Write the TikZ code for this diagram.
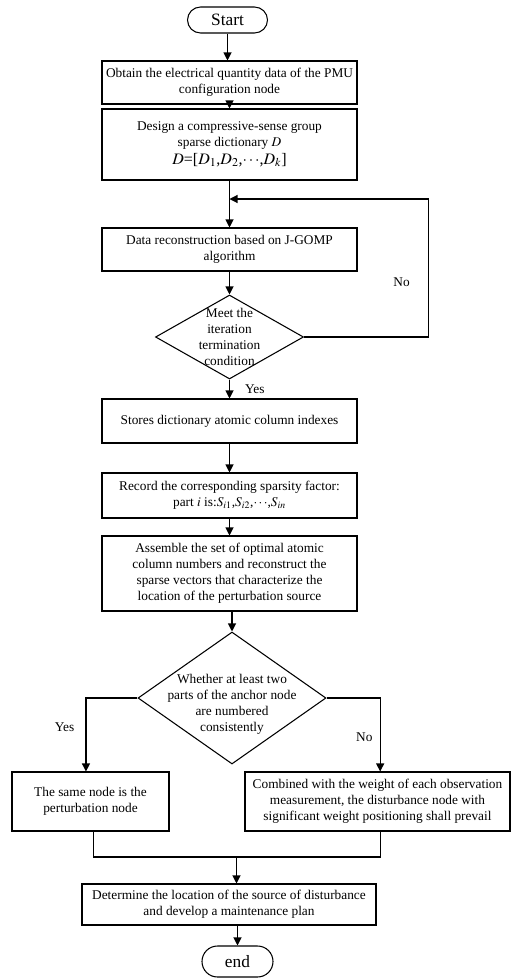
\documentclass[tikz,border=0pt]{standalone}
\usepackage{mathptmx}
\usepackage[no-math]{fontspec}
\setmainfont{Liberation Serif}
\usetikzlibrary{arrows.meta,shapes.geometric,shapes.misc}

\begin{document}
\begin{tikzpicture}[x=0.75pt,y=-0.75pt,line width=0.8pt,
  every node/.style={font=\fontsize{10}{12}\selectfont},
  procbox/.style={draw,rectangle,align=center,inner sep=0pt,minimum width=191.25pt},
  termbox/.style={draw,rounded rectangle,inner sep=0pt,font=\fontsize{13}{15}\selectfont},
  decbox/.style={draw,diamond,inner sep=0pt},
  flow/.style={-{Triangle[length=6pt,width=6pt]}}]
  \useasboundingbox (0,0) rectangle (511,978);

  % Start
  \node[termbox,minimum width=60pt,minimum height=19.5pt] (start) at (227.5,20) {Start};

  % Main column
  \node[procbox,minimum height=32.25pt] (obtain) at (229.5,82.5)
    {Obtain the electrical quantity data of the PMU\\configuration node};
  \node[procbox,minimum height=53.25pt] (design) at (229.5,144.5)
    {Design a compressive-sense group\\sparse dictionary $D$\\[1pt]{\large $D$=[$D_1$,$D_2$,$\cdots$,$D_k$]}};
  \node[procbox,minimum height=32.25pt] (recon) at (229.5,249.5)
    {Data reconstruction based on J-GOMP\\algorithm};

  % Iteration check
  \node[decbox,minimum width=111pt,minimum height=63pt] (meet) at (229.5,337) {};
  \node[align=center] (meettxt) at (meet) {Meet the\\iteration\\termination\\condition};

  \node[procbox,minimum height=33pt] (store) at (229.5,421)
    {Stores dictionary atomic column indexes};
  \node[procbox,minimum height=33.75pt] (record) at (229.5,495.5)
    {Record the corresponding sparsity factor:\\part $i$ is:$S_{i1}$,$S_{i2}$,$\cdots$,$S_{in}$};
  \node[procbox,minimum height=56.25pt] (assemble) at (229.5,573.5)
    {Assemble the set of optimal atomic\\column numbers and reconstruct the\\sparse vectors that characterize the\\location of the perturbation source};

  % Anchor node check
  \node[decbox,minimum width=141pt,minimum height=99pt] (whether) at (232,698) {};
  \node[align=center] (whethertxt) at (232,704)
    {Whether at least two\\parts of the anchor node\\are numbered\\consistently};

  % Branches
  \node[procbox,minimum width=117.75pt,minimum height=44.25pt] (same) at (90.5,801.5)
    {The same node is the\\perturbation node};
  \node[procbox,minimum width=198.75pt,minimum height=44.25pt] (combined) at (377.5,801.5)
    {Combined with the weight of each observation\\measurement, the disturbance node with\\significant weight positioning shall prevail};

  \node[procbox,minimum width=220.5pt,minimum height=30.75pt] (determine) at (229,904.5)
    {Determine the location of the source of disturbance\\and develop a maintenance plan};

  % End
  \node[termbox,minimum width=53.25pt,minimum height=23.25pt] (end) at (237.5,961.5) {end};

  \coordinate (loopin) at (229.5,199);
  \coordinate (merge) at (236.5,857);

  % Connectors
  \draw[flow] (start.south) -- (start.south |- obtain.north);
  \draw[flow] (obtain) -- (design);
  \draw[flow] (design) -- (recon);
  \draw[flow] (recon) -- (meet);
  \draw[flow] (meet) -- node[right=8pt]{Yes} (store);
  \draw[flow] (meet.east) -- ++(124,0) |- node[pos=0.2,left=10pt]{No} (loopin);
  \draw[flow] (store) -- (record);
  \draw[flow] (record) -- (assemble);
  \draw[flow] (assemble.south -| whether.north) -- (whether.north);
  \draw[flow] (whether.west) -| node[pos=0.7,left=5pt]{Yes} ([xshift=-3.4pt]same.north);
  \draw[flow] (whether.east) -| node[pos=0.77,left=2pt]{No} ([xshift=2pt]combined.north);
  \draw ([xshift=2pt]same.south) |- (merge) -| ([xshift=2pt]combined.south);
  \draw[flow] (merge) -- (merge |- determine.north);
  \draw[flow] (determine.south -| end.north) -- (end.north);
\end{tikzpicture}
\end{document}
